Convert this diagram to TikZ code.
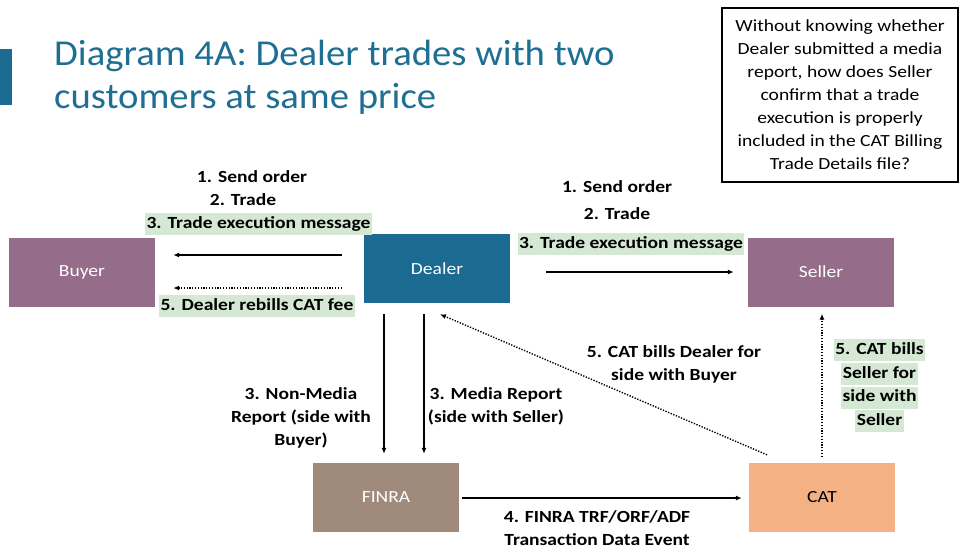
\documentclass[tikz,border=0pt]{standalone}
\usepackage{fontspec}
\setmainfont{Carlito}[FakeStretch=1.15]
\newfontfamily\titlefont{Carlito}[FakeStretch=1.06]
\usetikzlibrary{arrows.meta,calc}
\definecolor{dealerblue}{HTML}{1B6A91}
\definecolor{titleblue}{HTML}{1F6E94}
\definecolor{mauve}{HTML}{956C8A}
\definecolor{finrabrown}{HTML}{A08A7B}
\definecolor{catorange}{HTML}{F4B183}
\definecolor{lblgreen}{HTML}{D5E8D4}
\tikzset{
  box/.style={minimum width=146pt, minimum height=69pt, inner sep=0pt, font=\fontsize{17}{20}\selectfont},
  lbl/.style={font=\fontsize{17}{23}\selectfont\bfseries, align=center, inner sep=1pt},
  glbl/.style={font=\fontsize{17}{20}\selectfont\bfseries, fill=lblgreen, inner xsep=1.5pt, inner ysep=0pt, text height=15pt, text depth=7pt},
  arr/.style={line width=1.4pt, -{Latex[length=6pt,width=5pt]}},
  darr/.style={line width=1.4pt, dash pattern=on 1.3pt off 1.5pt, -{Latex[length=6pt,width=5pt]}}
}
\begin{document}
\begin{tikzpicture}[x=1pt,y=-1pt]
\useasboundingbox[fill=white] (0,0) rectangle (963,550);
% title
\fill[dealerblue] (0,49) rectangle (12,105);
\node[anchor=base west, inner sep=0pt, text=titleblue, font=\titlefont\fontsize{36.5}{43}\selectfont, align=left] (title) at (54,108)
  {Diagram 4A: Dealer trades with two\\customers at same price};
% question box
\node[draw=black, line width=1.2pt, minimum width=236pt, minimum height=174pt, inner sep=0pt, align=center,
  font=\fontsize{17}{23}\selectfont] (q) at (840,95)
  {Without knowing whether\\Dealer submitted a media\\report, how does Seller\\confirm that a trade\\execution is properly\\included in the CAT Billing\\Trade Details file?};
% boxes
\node[box, fill=mauve, text=white] (buyer) at (82,272.5) {Buyer};
\node[box, fill=dealerblue, text=white] (dealer) at (437,268.5) {Dealer};
\node[box, fill=mauve, text=white] (seller) at (821,272) {Seller};
\node[box, fill=finrabrown, text=white] (finra) at (386,497.5) {FINRA};
\node[box, fill=catorange, text=black] (cat) at (822,497.5) {CAT};
% coordinates
\coordinate (d1) at ($(dealer.west)+(-22,-13.5)$);
\coordinate (b1) at ($(buyer.east)+(18,-17.5)$);
\coordinate (d2) at ($(dealer.west)+(-22,19.5)$);
\coordinate (b2) at ($(buyer.east)+(18,15.5)$);
\coordinate (d3) at ($(dealer.east)+(36,3.5)$);
\coordinate (s3) at ($(seller.west)+(-14,0)$);
\coordinate (d4) at ($(dealer.south)+(-53,11)$);
\coordinate (f4) at ($(finra.north)+(-2,-9)$);
\coordinate (d5) at ($(dealer.south)+(-13,11)$);
\coordinate (f5) at ($(finra.north)+(38,-9)$);
\coordinate (c6) at ($(cat.north)+(-55,-8)$);
\coordinate (d6) at ($(dealer.south)+(3,11)$);
\coordinate (c7) at ($(cat.north)+(0,-6)$);
\coordinate (s7) at ($(seller.south)+(1,7)$);
\coordinate (f8) at ($(finra.east)+(3,0.5)$);
\coordinate (c8) at ($(cat.west)+(-7,0.5)$);
% connectors
\draw[arr] (d1) -- (b1);
\draw[darr] (d2) -- (b2);
\draw[arr] (d3) -- (s3);
\draw[arr] (d4) -- (f4);
\draw[arr] (d5) -- (f5);
\draw[darr] (c6) -- (d6);
\draw[darr] (c7) -- (s7);
\draw[arr] (f8) -- (c8);
% labels left
\node[lbl] (l1) at (252,177) {1. Send order};
\node[lbl] (l2) at (243,200) {2. Trade};
\node[glbl] (l3) at (258.5,224) {3. Trade execution message};
\node[glbl] (l5) at (257,306) {5. Dealer rebills CAT fee};
% labels right
\node[lbl] (r1) at (617,187) {1. Send order};
\node[lbl] (r2) at (617,214) {2. Trade};
\node[glbl] (r3) at (631,244) {3. Trade execution message};
% vertical labels
\node[lbl] (nm) at (301,418) {3. Non-Media\\Report (side with\\Buyer)};
\node[lbl] (mr) at (496,406.5) {3. Media Report\\(side with Seller)};
\node[lbl] (cb) at (674,364.5) {5. CAT bills Dealer for\\side with Buyer};
\node[lbl] (fe) at (597,528) {4. FINRA TRF/ORF/ADF\\Transaction Data Event};
% green stacked label
\node[glbl] (g1) at (879.5,350) {5. CAT bills};
\node[glbl] (g2) at (879.5,374) {Seller for};
\node[glbl] (g3) at (879.5,397.5) {side with};
\node[glbl] (g4) at (879.5,421) {Seller};
\end{tikzpicture}
\end{document}
